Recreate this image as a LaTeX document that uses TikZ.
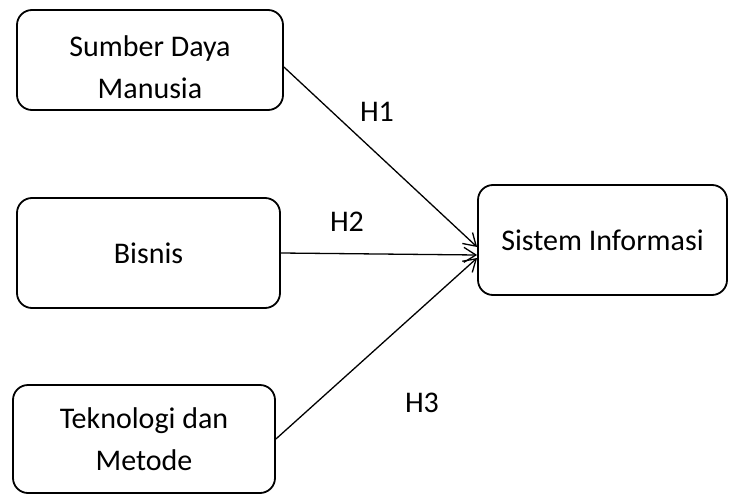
\documentclass[tikz,border=0pt]{standalone}
\usepackage{fontspec}
\setmainfont{Carlito}
\usetikzlibrary{arrows.meta}
\begin{document}
\begin{tikzpicture}[x=1pt,y=-1pt,
  box/.style={draw,line width=1.8pt,rounded corners=15pt,align=center,inner sep=0pt,
    font=\fontsize{30}{42}\selectfont},
  txt/.style={align=center,inner sep=0pt,font=\fontsize{30}{42}\selectfont},
  hlabel/.style={font=\fontsize{30}{42}\selectfont,inner sep=0pt},
  link/.style={line width=1.3pt,-{Straight Barb[length=12pt,width=15pt,line width=1.3pt]}}]
\useasboundingbox (0,0) rectangle (730,495);
\node[box,minimum width=266pt,minimum height=100pt] (b1) at (150,60) {};
\node[txt] (b1t) at (150,67) {Sumber Daya\\Manusia};
\node[box,minimum width=263pt,minimum height=110pt] (b2) at (148.5,253) {Bisnis};
\node[box,minimum width=262pt,minimum height=108pt] (b3) at (144,439) {Teknologi dan\\Metode};
\node[box,minimum width=249pt,minimum height=110pt] (b4) at (602.5,240) {Sistem Informasi};
\draw[link] ([yshift=-7pt]b1.east) -- ([yshift=-7pt]b4.west);
\draw[link] (b2.east) -- ([yshift=-15pt]b4.west);
\draw[link] (b3.east) -- ([yshift=-18pt]b4.west);
\node[hlabel] (h1) at (377,112) {H1};
\node[hlabel] (h2) at (347,222) {H2};
\node[hlabel] (h3) at (422,403) {H3};
\end{tikzpicture}
\end{document}
